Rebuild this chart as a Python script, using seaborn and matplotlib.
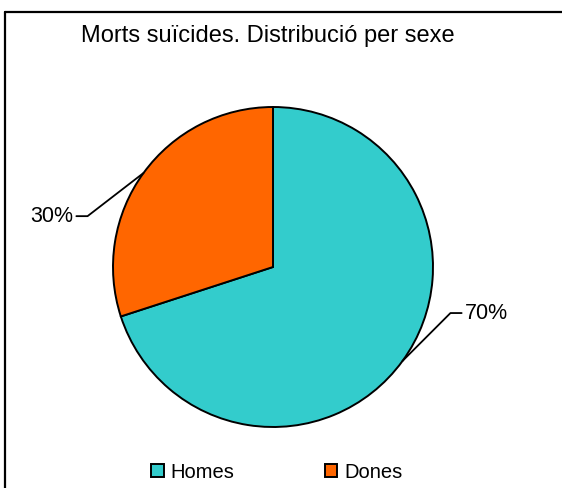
import numpy as np
import matplotlib
matplotlib.use("Agg")
import matplotlib.pyplot as plt
import seaborn as sns
from matplotlib.lines import Line2D

# Dades
categories = ["Homes", "Dones"]
valors = [70, 30]
etiquetes = ["70%", "30%"]
colors = ["#33CCCC", "#FF6600"]

sns.set_theme(style="white")
plt.rcParams["font.family"] = ["Liberation Sans", "DejaVu Sans"]

W, H = 562, 488
fig = plt.figure(figsize=(W / 100, H / 100), dpi=100)
ax = fig.add_axes([0, 0, 1, 1])

# centre i radi del pastís en píxels
cx, cy, r = 273, 267, 160

wedges, _ = ax.pie(valors, colors=colors, startangle=90, counterclock=False,
                   radius=1, wedgeprops=dict(edgecolor="black", linewidth=1.4))

ax.set_xlim(-cx / r, (W - cx) / r)
ax.set_ylim(-(H - cy) / r, cy / r)
ax.set_aspect("equal")
ax.axis("off")

# etiquetes amb línia guia
offsets = [(0.30, 0.30, 1), (-0.35, -0.27, -1)]
for w, lab, (dx, dy, side) in zip(wedges, etiquetes, offsets):
    ang = np.deg2rad((w.theta1 + w.theta2) / 2)
    ex, ey = np.cos(ang), np.sin(ang)
    elx, ely = ex + dx, ey + dy
    hx = elx + side * 0.07
    ax.plot([ex, elx, hx], [ey, ely, ely], color="black", lw=1.3)
    ax.text(hx + side * 0.02, ely, lab, fontsize=15.5, va="center",
            ha="left" if side > 0 else "right", color="black")

fig.text(268 / W, 1 - 42 / H, "Morts suïcides. Distribució per sexe",
         fontsize=17, ha="center", va="baseline", color="black")

# llegenda
leg = fig.legend(wedges, categories, loc="center", bbox_to_anchor=(0.5 - 4 / W, 1 - 472 / H),
                 ncol=2, frameon=False, fontsize=14.5, handlelength=0.6, handleheight=0.6,
                 handletextpad=0.35, columnspacing=4.5, labelcolor="black")
for h in leg.legend_handles:
    h.set_linewidth(1.4)

# marc del gràfic
fig.add_artist(Line2D([4.5 / W, 4.5 / W], [0, 1 - 11.5 / H], color="black", lw=1.6))
fig.add_artist(Line2D([4.5 / W, 1], [1 - 11.5 / H, 1 - 11.5 / H], color="black", lw=1.6))

fig.savefig("out.png", dpi=100)
